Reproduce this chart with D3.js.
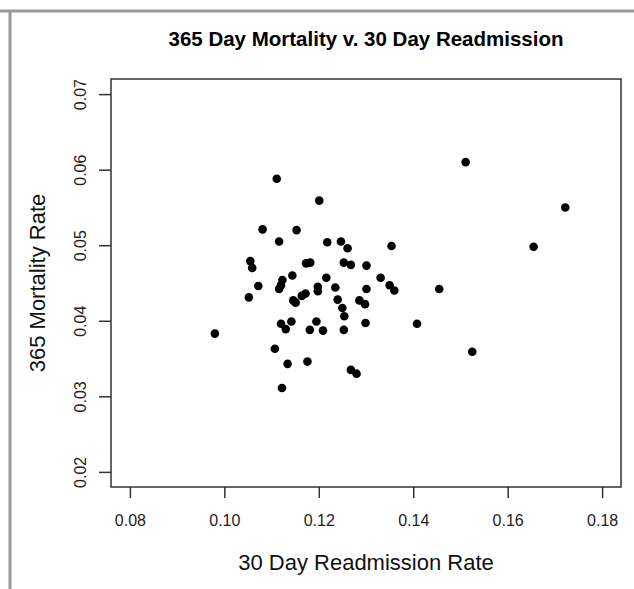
<!DOCTYPE html>
<html>
<head>
<meta charset="utf-8">
<script src="https://cdn.jsdelivr.net/npm/d3@7"></script>
<style>
body { margin: 0; background: #fff; }
text { font-family: "Liberation Sans", Arial, sans-serif; }
</style>
</head>
<body>
<script>
// hospital rates
var readmission = [0.1111, 0.1201, 0.1511, 0.1722, 0.1655, 0.1081, 0.1153, 0.1116, 0.1218, 0.1247,
	0.1261, 0.1354, 0.1055, 0.1059, 0.1173, 0.1182, 0.1253, 0.1268, 0.1301, 0.1144,
	0.1216, 0.1331, 0.1072, 0.1123, 0.1120, 0.1116, 0.1198, 0.1198, 0.1235, 0.1301,
	0.1350, 0.1360, 0.1455, 0.1052, 0.1146, 0.1151, 0.1164, 0.1172, 0.1240, 0.1286,
	0.1298, 0.1250, 0.1254, 0.1299, 0.1408, 0.1120, 0.1130, 0.1142, 0.1195, 0.1181,
	0.1209, 0.1253, 0.0980, 0.1107, 0.1176, 0.1134, 0.1122, 0.1525, 0.1268, 0.1280];
var mortality = [0.0588, 0.0559, 0.0610, 0.0550, 0.0498, 0.0521, 0.0520, 0.0505, 0.0504, 0.0505,
	0.0496, 0.0499, 0.0479, 0.0470, 0.0476, 0.0477, 0.0477, 0.0474, 0.0473, 0.0460,
	0.0457, 0.0457, 0.0446, 0.0454, 0.0447, 0.0442, 0.0445, 0.0439, 0.0444, 0.0442,
	0.0447, 0.0440, 0.0442, 0.0431, 0.0427, 0.0424, 0.0433, 0.0436, 0.0428, 0.0427,
	0.0422, 0.0417, 0.0406, 0.0397, 0.0396, 0.0396, 0.0389, 0.0399, 0.0399, 0.0388,
	0.0387, 0.0388, 0.0383, 0.0363, 0.0346, 0.0343, 0.0311, 0.0359, 0.0335, 0.0330];
var xTicks = [0.08, 0.10, 0.12, 0.14, 0.16, 0.18];
var yTicks = [0.02, 0.03, 0.04, 0.05, 0.06, 0.07];

var w = 634, h = 589;
var pLeft = 111, pRight = 621, pTop = 79, pBottom = 487;

var svg = d3.select("body").append("svg")
	.attr("width", w)
	.attr("height", h);

// R style: limits padded by 4%
var x = d3.scaleLinear().domain([0.076, 0.184]).range([pLeft, pRight]);
var y = d3.scaleLinear().domain([0.018, 0.072]).range([pBottom, pTop]);

// grey frame of the screenshot
svg.append("line").attr("x1", 0).attr("x2", w).attr("y1", 11).attr("y2", 11)
	.attr("stroke", "#9a9a9a").attr("stroke-width", 3);
svg.append("line").attr("x1", 10).attr("x2", 10).attr("y1", 10).attr("y2", h)
	.attr("stroke", "#9a9a9a").attr("stroke-width", 3);

svg.append("rect")
	.attr("x", pLeft).attr("y", pTop)
	.attr("width", pRight - pLeft).attr("height", pBottom - pTop)
	.attr("fill", "none").attr("stroke", "#333").attr("stroke-width", 1.5);

var xAxis = svg.append("g")
	.attr("transform", "translate(0," + pBottom + ")")
	.call(d3.axisBottom(x).tickValues(xTicks).tickSize(11).tickPadding(17).tickFormat(d3.format(".2f")));
xAxis.select(".domain").remove();
xAxis.selectAll("line").attr("stroke", "#333").attr("stroke-width", 1.5);
xAxis.selectAll("text").attr("fill", "#222").style("font-size", "16px")
	.style("font-family", "Liberation Sans, Arial, sans-serif");

var yAxis = svg.append("g")
	.attr("transform", "translate(" + pLeft + ",0)")
	.call(d3.axisLeft(y).tickValues(yTicks).tickSize(12).tickPadding(4).tickFormat(d3.format(".2f")));
yAxis.select(".domain").remove();
yAxis.selectAll("line").attr("stroke", "#333").attr("stroke-width", 1.5);
yAxis.selectAll("text")
	.attr("fill", "#222").style("font-size", "16px")
	.style("font-family", "Liberation Sans, Arial, sans-serif")
	.attr("text-anchor", "middle")
	.attr("x", null).attr("dy", null)
	.attr("transform", "translate(-25,0) rotate(-90)");

svg.selectAll("circle")
	.data(readmission)
	.enter()
	.append("circle")
	.attr("cx", function(d){return x(d);})
	.attr("cy", function(d, i){return y(mortality[i]);})
	.attr("r", 4.3)
	.attr("fill", "#000");

svg.append("text")
	.attr("x", 366).attr("y", 46)
	.attr("text-anchor", "middle")
	.style("font-size", "20.5px").style("font-weight", "bold")
	.text("365 Day Mortality v. 30 Day Readmission");

svg.append("text")
	.attr("x", 366).attr("y", 570)
	.attr("text-anchor", "middle")
	.style("font-size", "22px").attr("fill", "#111")
	.text("30 Day Readmission Rate");

svg.append("text")
	.attr("transform", "translate(45," + ((pTop + pBottom) / 2) + ") rotate(-90)")
	.attr("text-anchor", "middle")
	.style("font-size", "22px").attr("fill", "#111")
	.text("365 Mortality Rate");
</script>
</body>
</html>
